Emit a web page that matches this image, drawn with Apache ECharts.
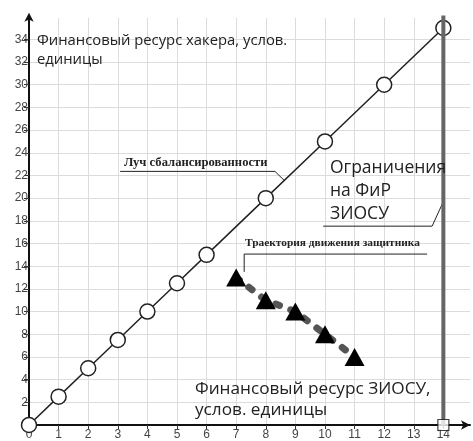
<!DOCTYPE html>
<html>
<head>
<meta charset="utf-8">
<script src="https://cdn.jsdelivr.net/npm/echarts@6/dist/echarts.min.js"></script>
<style>
  html, body { margin: 0; padding: 0; background: #fff; }
  #chart { width: 473px; height: 441px; }
</style>
</head>
<body>
<div id="chart"></div>
<script>
// ray of balance (хакер = 2.5 * ЗИОСУ)
var rayPoints = [[0, 0], [1, 2.5], [2, 5], [3, 7.5], [4, 10], [5, 12.5], [6, 15], [8, 20], [10, 25], [12, 30], [14, 35]];
// defender trajectory
var defenderPoints = [[7, 13], [8, 11], [9, 10], [10, 8], [11, 6]];
// resource limit of the defender
var limitLine = [[14, 0], [14, 36.1]];
var limitFoot = [[14, 0]];
// callout leader lines (data units)
var rayCallout = [[3.08, 22.36], [8.31, 22.36], [8.62, 21.57]];
var defenderCallout = [[13.45, 15.07], [7.27, 15.07], [7.27, 13.5]];
var limitCallout = [[9.94, 17.53], [13.62, 17.53], [13.99, 19.64]];

var chart = echarts.init(document.getElementById('chart'));

var sans = '"Open Sans", "Noto Sans", sans-serif';
var serif = '"Liberation Serif", "DejaVu Serif", serif';

function leader(pts) {
  return {
    type: 'line', data: pts, symbol: 'none', silent: true, z: 1,
    lineStyle: { color: '#222', width: 1 }
  };
}

var option = {
  animation: false,
  grid: { left: 29, right: 3, top: 17.8, bottom: 14.3 },
  xAxis: {
    type: 'value', min: 0, max: 14.9, interval: 1,
    axisLine: { lineStyle: { color: '#111', width: 2 }, symbol: ['none', 'arrow'], symbolSize: [7, 9] },
    axisTick: { length: 4, lineStyle: { color: '#333' } },
    axisLabel: {
      color: '#444', fontSize: 12, fontFamily: '"Liberation Sans", Arial', margin: 4,
      showMaxLabel: false,
      formatter: function (v) { return v % 1 === 0 ? String(v) : ''; }
    },
    splitLine: { show: true, showMaxLine: false, lineStyle: { color: '#dcdcdc' } }
  },
  yAxis: {
    type: 'value', min: 0, max: 35.9, interval: 2,
    axisLine: { lineStyle: { color: '#111', width: 2 }, symbol: ['none', 'arrow'], symbolSize: [7, 9], symbolOffset: [0, 5] },
    axisTick: { length: 5, lineStyle: { color: '#333' } },
    axisLabel: {
      color: '#444', fontSize: 12, fontFamily: '"Liberation Sans", Arial', margin: 1,
      showMaxLabel: false,
      formatter: function (v) { return v % 2 === 0 ? String(v) : ''; }
    },
    splitLine: { show: true, showMaxLine: false, lineStyle: { color: '#dcdcdc' } }
  },
  series: [
    leader(rayCallout),
    leader(defenderCallout),
    leader(limitCallout),
    {
      name: 'Луч сбалансированности', type: 'line', data: rayPoints, z: 2,
      symbol: 'circle', symbolSize: 15, showAllSymbol: true,
      lineStyle: { color: '#222', width: 1.5 },
      itemStyle: { color: '#fff', borderColor: '#222', borderWidth: 1.5 }
    },
    {
      name: 'Траектория движения защитника', type: 'line', data: defenderPoints, z: 3,
      symbol: 'triangle', symbolSize: [20, 18],
      lineStyle: { color: '#555', width: 7, type: [4, 12], cap: 'round' },
      itemStyle: { color: '#000' }
    },
    {
      name: 'Ограничения', type: 'line', data: limitLine, z: 4, clip: false,
      symbol: 'none', lineStyle: { color: '#666', width: 4 }
    },
    {
      type: 'scatter', data: limitFoot, z: 5, symbol: 'rect', symbolSize: 11,
      itemStyle: { color: '#fff', borderColor: '#111', borderWidth: 1.2 }
    }
  ],
  graphic: [
    {
      type: 'text', left: 37, top: 32, z: 10,
      style: { text: 'Финансовый ресурс хакера, услов.\nединицы', font: '14.8px ' + sans, fill: '#222', lineHeight: 18.5 }
    },
    {
      type: 'text', left: 330, top: 157, z: 10,
      style: { text: 'Ограничения\nна ФиР\nЗИОСУ', font: '17.5px ' + sans, fill: '#222', lineHeight: 23 }
    },
    {
      type: 'text', left: 195, top: 379, z: 10,
      style: { text: 'Финансовый ресурс ЗИОСУ,\nуслов. единицы', font: '17.2px ' + sans, fill: '#222', lineHeight: 21 }
    },
    {
      type: 'text', left: 124, top: 156, z: 10,
      style: { text: 'Луч сбалансированности', font: 'bold 12.6px ' + serif, fill: '#222' }
    },
    {
      type: 'text', left: 245, top: 238, z: 10,
      style: { text: 'Траектория движения защитника', font: 'bold 11.4px ' + serif, fill: '#222' }
    }
  ]
};

chart.setOption(option);
</script>
</body>
</html>
